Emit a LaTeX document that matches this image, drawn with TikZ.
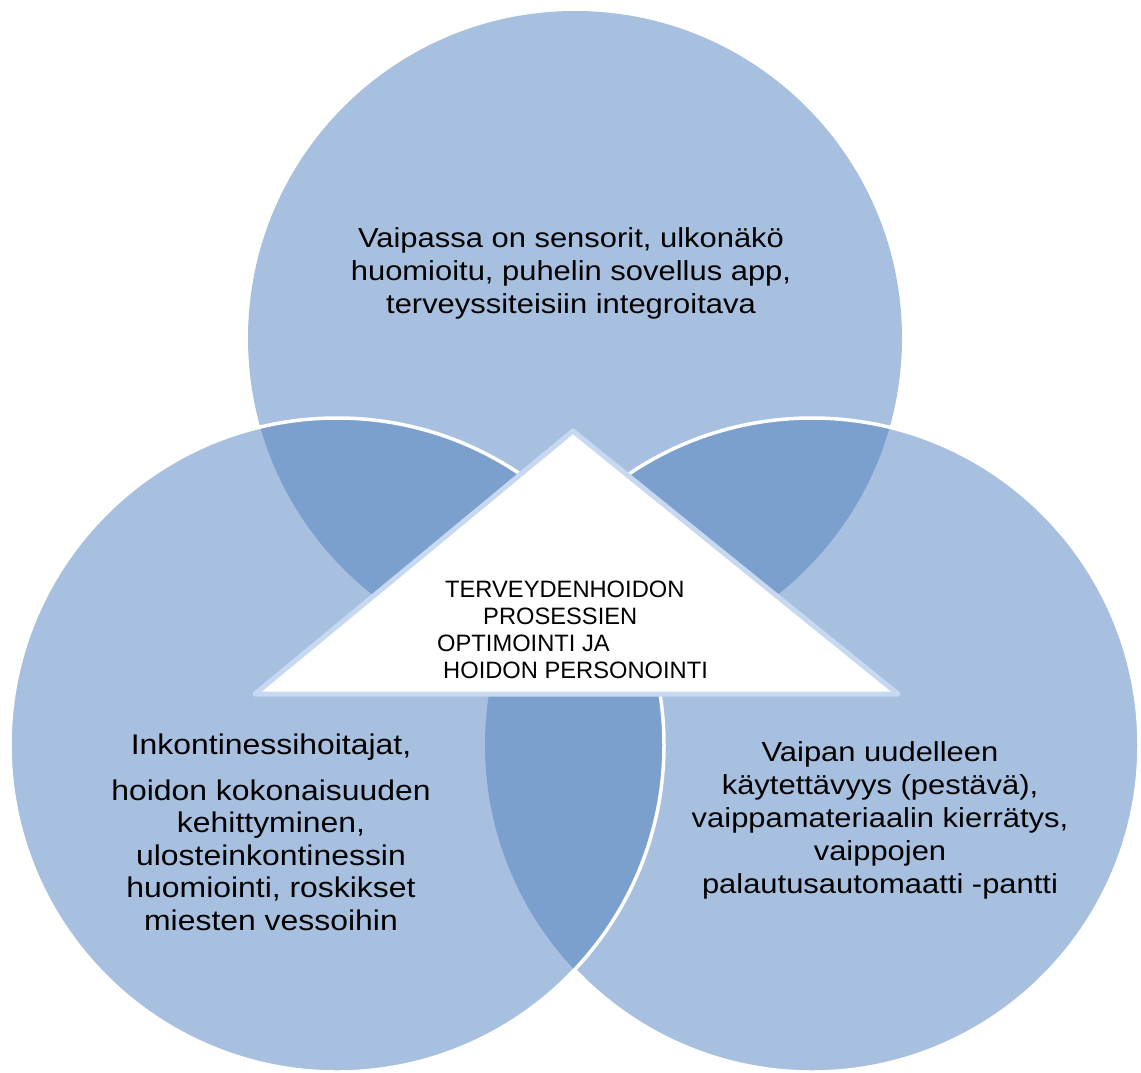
\documentclass[tikz,border=0pt]{standalone}
\usepackage{fontspec}
\setmainfont{Liberation Sans}
\newfontfamily\widesans[FakeStretch=1.125]{Liberation Sans}
\newfontfamily\widersans[FakeStretch=1.12]{Liberation Sans}

\definecolor{circlefill}{HTML}{A8C0DF}
\definecolor{overlapfill}{HTML}{7BA0CD}
\definecolor{triedge}{HTML}{C6D9F1}

\tikzset{
  venncircle/.style={fill=circlefill},
  vennoutline/.style={draw=white, line width=3.5},
  overlap/.style={fill=overlapfill},
  centretri/.style={draw=triedge, line width=5, fill=white, line join=round},
  circletext/.style={align=center, inner sep=0pt, text=black,
    font=\widesans\fontsize{27.5}{33}\selectfont},
  lefttext/.style={align=center, inner sep=0pt, text=black,
    font=\widersans\fontsize{28.5}{32.5}\selectfont},
  tritext/.style={align=left, inner sep=0pt, text=black,
    font=\fontsize{23.7}{27}\selectfont}
}

\begin{document}
\begin{tikzpicture}[x=1pt, y=-1pt]
\useasboundingbox (0,0) rectangle (1141,1072);

\def\rad{327}
\coordinate (cT) at (575,338);
\coordinate (cL) at (337,745);
\coordinate (cR) at (812,745);

% top circle (lowest layer)
\fill[venncircle] (cT) circle[radius=\rad];

% right circle, darker where it overlaps the top one
\fill[venncircle] (cR) circle[radius=\rad];
\begin{scope}
  \clip (cT) circle[radius=\rad];
  \fill[overlap] (cR) circle[radius=\rad];
\end{scope}
\draw[vennoutline] (cR) circle[radius=\rad];

% left circle, darker where it overlaps the other two
\fill[venncircle] (cL) circle[radius=\rad];
\begin{scope}
  \clip (cT) circle[radius=\rad];
  \fill[overlap] (cL) circle[radius=\rad];
\end{scope}
\begin{scope}
  \clip (cR) circle[radius=\rad];
  \fill[overlap] (cL) circle[radius=\rad];
\end{scope}
\draw[vennoutline] (cL) circle[radius=\rad];

% central triangle
\draw[centretri] (573,431) -- (898,694) -- (255,694) -- cycle;

% texts (each node is placed by the baseline of its last line)
\node[circletext, anchor=base] (topText) at (571,313)
  {Vaipassa on sensorit, ulkonäkö\\huomioitu, puhelin sovellus app,\\terveyssiteisiin integroitava};

\node[lefttext, anchor=base] (leftText) at (271,930)
  {Inkontinessihoitajat,\\[13.5pt]hoidon kokonaisuuden\\kehittyminen,\\ulosteinkontinessin\\huomiointi, roskikset\\miesten vessoihin};

\node[circletext, anchor=base] (rightText) at (880,893)
  {Vaipan uudelleen\\käytettävyys (pestävä),\\vaippamateriaalin kierrätys,\\vaippojen\\palautusautomaatti -pantti};

\node[tritext, anchor=base west] (centreText) at (437,678)
  {\hspace*{8pt}TERVEYDENHOIDON\\\hspace*{46pt}PROSESSIEN\\OPTIMOINTI JA\\\hspace*{6pt}HOIDON PERSONOINTI};
\end{tikzpicture}
\end{document}
